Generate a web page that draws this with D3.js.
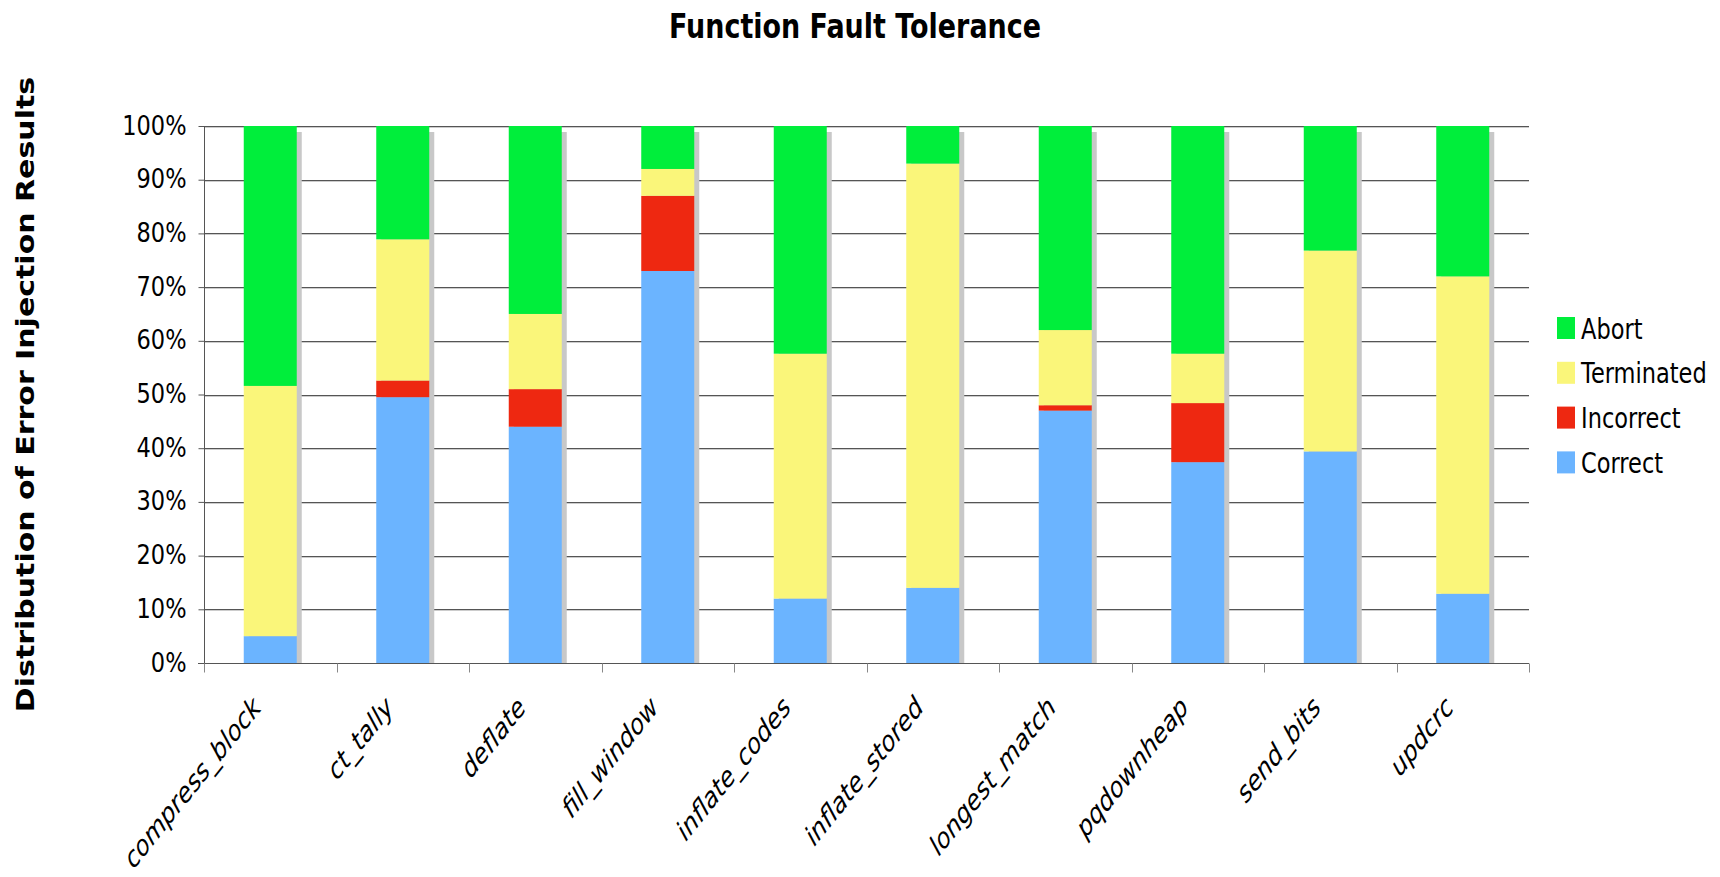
<!DOCTYPE html>
<html>
<head>
<meta charset="utf-8">
<script src="https://cdn.jsdelivr.net/npm/d3@7"></script>
<style>
  html, body { margin: 0; padding: 0; background: #fff; }
  svg { display: block; }
</style>
</head>
<body>
<svg id="chart" width="1720" height="877"></svg>
<script>
// Per-function outcome shares of the error-injection runs (percent, sums to 100)
const categories = ["compress_block", "ct_tally", "deflate", "fill_window", "inflate_codes",
                    "inflate_stored", "longest_match", "pqdownheap", "send_bits", "updcrc"];
const correct    = [5.0, 49.5, 44.0, 73.0, 12.0, 14.0, 47.0, 37.4, 39.4, 12.9];
const incorrect  = [0.0,  3.1,  7.0, 14.0,  0.0,  0.0,  1.0, 11.0,  0.0,  0.0];
const terminated = [46.6, 26.3, 14.0, 5.0, 45.6, 79.0, 14.0,  9.2, 37.4, 59.1];
const abort      = [48.4, 21.1, 35.0, 8.0, 42.4,  7.0, 38.0, 42.4, 23.2, 28.0];
const seriesNames = ["Correct", "Incorrect", "Terminated", "Abort"];
const yTicks = [0, 10, 20, 30, 40, 50, 60, 70, 80, 90, 100];

const colors = {
  Correct: "#6bb4ff",
  Incorrect: "#ee2811",
  Terminated: "#faf67a",
  Abort: "#00ee3b"
};

const rows = categories.map((c, i) => ({
  name: c,
  Correct: correct[i],
  Incorrect: incorrect[i],
  Terminated: terminated[i],
  Abort: abort[i]
}));

const svg = d3.select("#chart");
const margin = { left: 204, right: 191, top: 126, bottom: 214 };
const W = 1720, H = 877;
const stretch = 1.22;   // text is drawn a little taller than wide

const x = d3.scaleBand().domain(categories).range([margin.left, W - margin.right]).padding(0);
const y = d3.scaleLinear().domain([0, 100]).range([H - margin.bottom, margin.top]);
const barW = x.bandwidth() * 0.4;
const barX = d => x(d) + (x.bandwidth() - barW) / 2;

// horizontal grid
const grid = svg.append("g");
grid.selectAll("line.lo").data(yTicks.filter(t => t > 0)).join("line")
  .attr("x1", margin.left).attr("x2", W - margin.right)
  .attr("y1", d => Math.round(y(d)) + 1.5).attr("y2", d => Math.round(y(d)) + 1.5)
  .attr("stroke", "#cccccc").attr("stroke-width", 1);
grid.selectAll("line.hi").data(yTicks.filter(t => t > 0)).join("line")
  .attr("x1", margin.left).attr("x2", W - margin.right)
  .attr("y1", d => Math.round(y(d)) + 0.5).attr("y2", d => Math.round(y(d)) + 0.5)
  .attr("stroke", "#555555").attr("stroke-width", 1);

// bar shadows
svg.append("g").selectAll("rect").data(rows).join("rect")
  .attr("x", d => barX(d.name) + 5)
  .attr("y", y(100) + 6)
  .attr("width", barW)
  .attr("height", y(0) - y(100) - 6)
  .attr("fill", "#c8c8c8");

// stacked bars
const stacked = d3.stack().keys(seriesNames)(rows);
svg.append("g").selectAll("g").data(stacked).join("g")
  .attr("fill", s => colors[s.key])
  .selectAll("rect").data(s => s).join("rect")
  .attr("x", d => barX(d.data.name))
  .attr("y", d => y(d[1]))
  .attr("width", barW)
  .attr("height", d => Math.max(0, y(d[0]) - y(d[1])));

// y axis
const yAxis = svg.append("g")
  .attr("transform", `translate(${margin.left + 0.5},0)`)
  .call(d3.axisLeft(y).tickValues(yTicks).tickFormat(d => d + "%").tickSize(6).tickPadding(12));
yAxis.select(".domain").attr("stroke", "#555").attr("d", `M0,${y(100)}V${y(0) + 9}`);
yAxis.selectAll(".tick line").attr("stroke", "#555");
yAxis.selectAll(".tick text")
  .attr("font-family", "DejaVu Sans")
  .attr("font-size", 22.5)
  .attr("fill", "#000")
  .attr("x", null).attr("dy", null)
  .attr("transform", `translate(-18,8) scale(1,${stretch})`);

// x axis
const xAxis = svg.append("g").attr("transform", `translate(0,${Math.round(y(0)) + 0.5})`);
xAxis.append("line")
  .attr("x1", margin.left - 6).attr("x2", W - margin.right)
  .attr("stroke", "#555");
const bounds = categories.map(c => x(c)).concat([x(categories[categories.length - 1]) + x.bandwidth()]);
xAxis.selectAll("line.tk").data(bounds).join("line")
  .attr("x1", d => Math.round(d) + 0.5).attr("x2", d => Math.round(d) + 0.5)
  .attr("y1", 0).attr("y2", 9)
  .attr("stroke", "#888");

svg.append("g").selectAll("text").data(categories).join("text")
  .attr("transform", d => `translate(${x(d) + x.bandwidth() / 2 - 8},${y(0) + 46}) scale(1,1.25) rotate(-45)`)
  .attr("text-anchor", "end")
  .attr("font-family", "DejaVu Sans")
  .attr("font-style", "italic")
  .attr("font-size", 22.8)
  .attr("fill", "#000")
  .text(d => d);

// title
svg.append("text")
  .attr("transform", `translate(855,38) scale(1,1.25)`)
  .attr("text-anchor", "middle")
  .attr("font-family", "DejaVu Sans")
  .attr("font-weight", "bold")
  .attr("font-size", 27)
  .attr("textLength", 372)
  .attr("lengthAdjust", "spacingAndGlyphs")
  .text("Function Fault Tolerance");

// y axis title
svg.append("text")
  .attr("transform", `translate(34,${(margin.top + H - margin.bottom) / 2}) scale(1,1.25) rotate(-90)`)
  .attr("text-anchor", "middle")
  .attr("font-family", "DejaVu Sans")
  .attr("font-weight", "bold")
  .attr("font-size", 24)
  .text("Distribution of Error Injection Results");

// legend, top entry is the top of the stack
const legend = svg.append("g").attr("transform", "translate(1557,317)");
const legendItems = seriesNames.slice().reverse();
const li = legend.selectAll("g").data(legendItems).join("g")
  .attr("transform", (d, i) => `translate(0,${i * 44.8})`);
li.append("rect").attr("width", 18).attr("height", 22).attr("fill", d => colors[d]);
li.append("text")
  .attr("transform", `translate(24,21.5) scale(1,1.25)`)
  .attr("font-family", "DejaVu Sans")
  .attr("font-size", 22.5)
  .attr("fill", "#000")
  .text(d => d);
</script>
</body>
</html>
